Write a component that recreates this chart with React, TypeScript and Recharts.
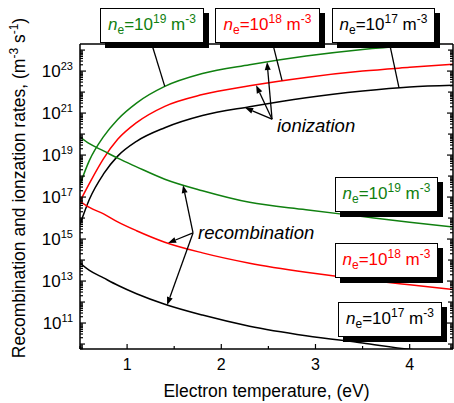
import { LineChart, Line, XAxis, YAxis, ReferenceLine } from "recharts";

// electron temperature (eV) where each curve was read
const temps = [0.5, 0.6, 0.75, 0.9, 1.1, 1.4, 1.8, 2.3, 2.9, 3.5, 4.0, 4.46];

// ionization rates, m^-3 s^-1
const ionNe19 = [4.0e17, 5.6e18, 7.6e19, 5.0e20, 3.0e21, 1.86e22, 7.6e22, 2.0e23, 5.2e23, 1.07e24, 1.66e24, 2.3e24];
const ionNe18 = [6.3e16, 4.5e17, 6.8e18, 5.6e19, 3.5e20, 2.1e21, 7.6e21, 2.0e22, 5.0e22, 1.0e23, 1.51e23, 2.14e23];
const ionNe17 = [5.0e15, 7.9e16, 1.26e18, 8.9e18, 4.5e19, 2.0e20, 7.6e20, 2.0e21, 5.4e21, 1.12e22, 1.74e22, 2.1e22];

// recombination rates, m^-3 s^-1
const recNe19 = [7.2e19, 3.5e19, 1.58e19, 7.1e18, 2.75e18, 7.1e17, 2.0e17, 5.6e16, 2.5e16, 1.17e16, 6.3e15, 3.7e15];
const recNe18 = [6.3e16, 3.2e16, 1.58e16, 6.6e15, 2.5e15, 7.1e14, 2.2e14, 7.1e13, 2.6e13, 1.17e13, 6.6e12, 4.0e12];
const recNe17 = [7.2e13, 3.2e13, 1.41e13, 6.3e12, 2.5e12, 7.9e11, 2.4e11, 7.1e10, 2.5e10, 1.12e10, 5.6e9, 3.5e9];

const xTicks = [0.5, 1, 1.5, 2, 2.5, 3, 3.5, 4];
const xLabels = [1, 2, 3, 4];
const yLabelExps = [11, 13, 15, 17, 19, 21, 23];

// leader lines from label boxes to ionization curves
const leaders = [
  [{ x: 1.265, y: 1.74e24 }, { x: 1.4, y: 1.86e22 }],
  [{ x: 2.55, y: 1.74e24 }, { x: 2.645, y: 3.6e22 }],
  [{ x: 3.79, y: 1.74e24 }, { x: 3.887, y: 1.58e22 }],
];
const ionArrows = [
  [{ x: 2.539, y: 5.1e20 }, { x: 2.486, y: 2.7e23 }],
  [{ x: 2.539, y: 5.1e20 }, { x: 2.37, y: 2.1e22 }],
  [{ x: 2.539, y: 5.1e20 }, { x: 2.253, y: 1.8e21 }],
];
const recArrows = [
  [{ x: 1.7, y: 1.95e15 }, { x: 1.594, y: 3.7e17 }],
  [{ x: 1.7, y: 1.95e15 }, { x: 1.435, y: 6.5e14 }],
  [{ x: 1.7, y: 1.95e15 }, { x: 1.425, y: 7.2e11 }],
];

const GREEN = "#108010";
const RED = "#ff0000";
const FONT = '"Liberation Sans", Arial, sans-serif';

const Y_DOMAIN = [5.8e9, 1.95e24];
const X_DOMAIN = [0.5, 4.46];

const yTicks: number[] = [];
for (let n = 9; n <= 24; n++) {
  for (let k = 1; k <= 9; k++) {
    const v = k * Math.pow(10, n);
    if (v >= Y_DOMAIN[0] && v <= Y_DOMAIN[1]) yTicks.push(v);
  }
}

const series = (ys: number[]) => temps.map((x, i) => ({ x, y: ys[i] }));

const decadeOf = (v: number) => {
  const e = Math.log10(v);
  return Math.abs(e - Math.round(e)) < 1e-6 ? Math.round(e) : null;
};

function YTick({ x, y, payload, dir, showLabel }: any) {
  const e = decadeOf(payload.value);
  const labeled = e !== null && yLabelExps.includes(e);
  const len = labeled ? 6 : e !== null ? 5 : 3;
  return (
    <g>
      <line x1={x} x2={x + dir * len} y1={y} y2={y} stroke="#000" strokeWidth={1.2} />
      {showLabel && labeled && (
        <text x={x - 7} y={y + 6} textAnchor="end" fontSize={17} fontFamily={FONT} fill="#000">
          10<tspan dy={-7} fontSize={11}>{e}</tspan>
        </text>
      )}
    </g>
  );
}

function XTick({ x, y, payload, dir, showLabel }: any) {
  const major = xLabels.includes(payload.value);
  const len = major ? 5 : 3;
  return (
    <g>
      <line x1={x} x2={x} y1={y} y2={y + dir * len} stroke="#000" strokeWidth={1.2} />
      {showLabel && major && (
        <text x={x} y={y + 21} textAnchor="middle" fontSize={16} fontFamily={FONT} fill="#000">
          {payload.value}
        </text>
      )}
    </g>
  );
}

function Arrow(props: any) {
  const { x1, y1, x2, y2 } = props;
  const a = Math.atan2(y2 - y1, x2 - x1);
  const L = 8;
  const W = 3;
  const bx = x2 - L * Math.cos(a);
  const by = y2 - L * Math.sin(a);
  const pts = `${x2},${y2} ${bx - W * Math.sin(a)},${by + W * Math.cos(a)} ${bx + W * Math.sin(a)},${by - W * Math.cos(a)}`;
  return (
    <g>
      <line x1={x1} y1={y1} x2={bx} y2={by} stroke="#000" strokeWidth={1.3} />
      <polygon points={pts} fill="#000" />
    </g>
  );
}

function DensityBox({ left, top, width, color, exp }: any) {
  return (
    <div
      style={{
        position: "absolute",
        left,
        top,
        width,
        height: 35,
        boxSizing: "border-box",
        border: "1.5px solid #000",
        background: "#fff",
        boxShadow: "5px 5px 0 #000",
        color,
        fontFamily: FONT,
        fontSize: 17,
        lineHeight: "17px",
        display: "flex",
        alignItems: "center",
        justifyContent: "center",
        whiteSpace: "nowrap",
      }}
    >
      <span>
        <i>n</i>
        <span style={{ fontSize: 12, position: "relative", top: 4 }}>e</span>=10
        <span style={{ fontSize: 12, position: "relative", top: -7 }}>{exp}</span> m
        <span style={{ fontSize: 12, position: "relative", top: -7 }}>-3</span>
      </span>
    </div>
  );
}

export default function App() {
  const lineProps = {
    type: "monotone" as const,
    dataKey: "y",
    dot: false,
    strokeWidth: 1.5,
    isAnimationActive: false,
  };
  return (
    <div style={{ position: "absolute", left: 0, top: 0, width: 454, height: 403, background: "#fff" }}>
      <LineChart width={454} height={403} margin={{ top: 43, right: 0, bottom: 0, left: 0 }}>
        <XAxis
          xAxisId={0}
          type="number"
          dataKey="x"
          domain={X_DOMAIN}
          allowDataOverflow
          ticks={xTicks}
          interval={0}
          height={54}
          tickSize={0}
          tickMargin={0}
          tickLine={false}
          axisLine={{ stroke: "#000", strokeWidth: 1.5 }}
          tick={(p: any) => <XTick {...p} dir={-1} showLabel />}
        />
        <XAxis
          xAxisId="t"
          orientation="top"
          type="number"
          domain={X_DOMAIN}
          allowDataOverflow
          ticks={xTicks}
          interval={0}
          height={1}
          tickSize={0}
          tickMargin={0}
          tickLine={false}
          axisLine={{ stroke: "#000", strokeWidth: 1.5 }}
          tick={(p: any) => <XTick {...p} dir={1} />}
        />
        <YAxis
          yAxisId={0}
          scale="log"
          type="number"
          domain={Y_DOMAIN}
          allowDataOverflow
          ticks={yTicks}
          interval={0}
          width={80}
          tickSize={0}
          tickMargin={0}
          tickLine={false}
          axisLine={{ stroke: "#000", strokeWidth: 1.5 }}
          tick={(p: any) => <YTick {...p} dir={1} showLabel />}
        />
        <YAxis
          yAxisId="r"
          orientation="right"
          scale="log"
          type="number"
          domain={Y_DOMAIN}
          allowDataOverflow
          ticks={yTicks}
          interval={0}
          width={1}
          tickSize={0}
          tickMargin={0}
          tickLine={false}
          axisLine={{ stroke: "#000", strokeWidth: 1.5 }}
          tick={(p: any) => <YTick {...p} dir={-1} />}
        />
        <Line {...lineProps} data={series(ionNe19)} stroke={GREEN} />
        <Line {...lineProps} data={series(ionNe18)} stroke={RED} />
        <Line {...lineProps} data={series(ionNe17)} stroke="#000" />
        <Line {...lineProps} data={series(recNe19)} stroke={GREEN} />
        <Line {...lineProps} data={series(recNe18)} stroke={RED} />
        <Line {...lineProps} data={series(recNe17)} stroke="#000" />
        {leaders.map((s, i) => (
          <ReferenceLine key={`l${i}`} segment={s} ifOverflow="visible" stroke="#000" strokeWidth={1.3} />
        ))}
        {[...ionArrows, ...recArrows].map((s, i) => (
          <ReferenceLine key={`a${i}`} segment={s} ifOverflow="visible" shape={(p: any) => <Arrow {...p} />} />
        ))}
      </LineChart>
      <svg width={454} height={403} style={{ position: "absolute", left: 0, top: 0, pointerEvents: "none" }}>
        <text x={277} y={132} fontSize={18.5} fontStyle="italic" fontFamily={FONT} fill="#000">
          ionization
        </text>
        <text x={198} y={239} fontSize={18.5} fontStyle="italic" fontFamily={FONT} fill="#000">
          recombination
        </text>
        <text x={266.5} y={397} textAnchor="middle" fontSize={17.5} fontFamily={FONT} fill="#000">
          Electron temperature, (eV)
        </text>
        <text transform="translate(25,188) rotate(-90)" textAnchor="middle" fontSize={17.5} fontFamily={FONT} fill="#000">
          Recombination and ionzation rates, (m<tspan dy={-7} fontSize={12}>-3</tspan>
          <tspan dy={7}> s</tspan>
          <tspan dy={-7} fontSize={12}>-1</tspan>
          <tspan dy={7}>)</tspan>
        </text>
      </svg>
      <DensityBox left={100} top={8} width={104} color={GREEN} exp={19} />
      <DensityBox left={215} top={8} width={105} color={RED} exp={18} />
      <DensityBox left={332} top={8} width={103} color="#000" exp={17} />
      <DensityBox left={335} top={177} width={103} color={GREEN} exp={19} />
      <DensityBox left={335} top={243} width={103} color={RED} exp={18} />
      <DensityBox left={338} top={302} width={104} color="#000" exp={17} />
    </div>
  );
}
